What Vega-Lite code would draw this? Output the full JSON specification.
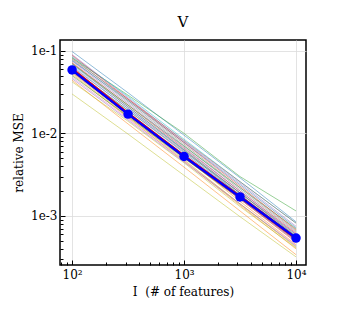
{
  "$schema": "https://vega.github.io/schema/vega-lite/v6.json",
  "autosize": "none",
  "padding": {"left": 60, "top": 40, "right": 38, "bottom": 66},
  "width": 246,
  "height": 225,
  "background": "white",
  "config": {
    "font": "DejaVu Serif",
    "view": {"stroke": "black", "strokeWidth": 1.5},
    "title": {"font": "DejaVu Serif", "fontSize": 15, "fontWeight": "normal", "color": "black", "offset": 10}
  },
  "title": "V",
  "datasets": {
    "runs": [
      {"run": "r01", "x": 100, "mse": 0.098}, {"run": "r01", "x": 316.2, "mse": 0.031}, {"run": "r01", "x": 1000, "mse": 0.0095}, {"run": "r01", "x": 3162, "mse": 0.0029}, {"run": "r01", "x": 10000, "mse": 0.00085},
      {"run": "r02", "x": 100, "mse": 0.052}, {"run": "r02", "x": 316.2, "mse": 0.0155}, {"run": "r02", "x": 1000, "mse": 0.0046}, {"run": "r02", "x": 3162, "mse": 0.00135}, {"run": "r02", "x": 10000, "mse": 0.0004},
      {"run": "r03", "x": 100, "mse": 0.082}, {"run": "r03", "x": 316.2, "mse": 0.029}, {"run": "r03", "x": 1000, "mse": 0.01}, {"run": "r03", "x": 3162, "mse": 0.003}, {"run": "r03", "x": 10000, "mse": 0.00115},
      {"run": "r04", "x": 100, "mse": 0.072}, {"run": "r04", "x": 316.2, "mse": 0.022}, {"run": "r04", "x": 1000, "mse": 0.0066}, {"run": "r04", "x": 3162, "mse": 0.002}, {"run": "r04", "x": 10000, "mse": 0.00062},
      {"run": "r05", "x": 100, "mse": 0.09}, {"run": "r05", "x": 316.2, "mse": 0.027}, {"run": "r05", "x": 1000, "mse": 0.008}, {"run": "r05", "x": 3162, "mse": 0.0025}, {"run": "r05", "x": 10000, "mse": 0.00075},
      {"run": "r06", "x": 100, "mse": 0.06}, {"run": "r06", "x": 316.2, "mse": 0.019}, {"run": "r06", "x": 1000, "mse": 0.006}, {"run": "r06", "x": 3162, "mse": 0.0019}, {"run": "r06", "x": 10000, "mse": 0.0006},
      {"run": "r07", "x": 100, "mse": 0.066}, {"run": "r07", "x": 316.2, "mse": 0.02}, {"run": "r07", "x": 1000, "mse": 0.0058}, {"run": "r07", "x": 3162, "mse": 0.0017}, {"run": "r07", "x": 10000, "mse": 0.0005},
      {"run": "r08", "x": 100, "mse": 0.078}, {"run": "r08", "x": 316.2, "mse": 0.024}, {"run": "r08", "x": 1000, "mse": 0.0071}, {"run": "r08", "x": 3162, "mse": 0.0021}, {"run": "r08", "x": 10000, "mse": 0.00064},
      {"run": "r09", "x": 100, "mse": 0.03}, {"run": "r09", "x": 316.2, "mse": 0.0098}, {"run": "r09", "x": 1000, "mse": 0.0031}, {"run": "r09", "x": 3162, "mse": 0.00098}, {"run": "r09", "x": 10000, "mse": 0.00032},
      {"run": "r10", "x": 100, "mse": 0.085}, {"run": "r10", "x": 316.2, "mse": 0.028}, {"run": "r10", "x": 1000, "mse": 0.0085}, {"run": "r10", "x": 3162, "mse": 0.0026}, {"run": "r10", "x": 10000, "mse": 0.00082},
      {"run": "r11", "x": 100, "mse": 0.064}, {"run": "r11", "x": 316.2, "mse": 0.02}, {"run": "r11", "x": 1000, "mse": 0.0062}, {"run": "r11", "x": 3162, "mse": 0.0018}, {"run": "r11", "x": 10000, "mse": 0.00056},
      {"run": "r12", "x": 100, "mse": 0.044}, {"run": "r12", "x": 316.2, "mse": 0.013}, {"run": "r12", "x": 1000, "mse": 0.0039}, {"run": "r12", "x": 3162, "mse": 0.00115}, {"run": "r12", "x": 10000, "mse": 0.00034},
      {"run": "r13", "x": 100, "mse": 0.07}, {"run": "r13", "x": 316.2, "mse": 0.022}, {"run": "r13", "x": 1000, "mse": 0.007}, {"run": "r13", "x": 3162, "mse": 0.0022}, {"run": "r13", "x": 10000, "mse": 0.0007},
      {"run": "r14", "x": 100, "mse": 0.055}, {"run": "r14", "x": 316.2, "mse": 0.017}, {"run": "r14", "x": 1000, "mse": 0.0051}, {"run": "r14", "x": 3162, "mse": 0.0016}, {"run": "r14", "x": 10000, "mse": 0.00048},
      {"run": "r15", "x": 100, "mse": 0.075}, {"run": "r15", "x": 316.2, "mse": 0.023}, {"run": "r15", "x": 1000, "mse": 0.0068}, {"run": "r15", "x": 3162, "mse": 0.002}, {"run": "r15", "x": 10000, "mse": 0.0006},
      {"run": "r16", "x": 100, "mse": 0.08}, {"run": "r16", "x": 316.2, "mse": 0.026}, {"run": "r16", "x": 1000, "mse": 0.0082}, {"run": "r16", "x": 3162, "mse": 0.0026}, {"run": "r16", "x": 10000, "mse": 0.00082},
      {"run": "r17", "x": 100, "mse": 0.048}, {"run": "r17", "x": 316.2, "mse": 0.015}, {"run": "r17", "x": 1000, "mse": 0.0047}, {"run": "r17", "x": 3162, "mse": 0.0014}, {"run": "r17", "x": 10000, "mse": 0.00044},
      {"run": "r18", "x": 100, "mse": 0.058}, {"run": "r18", "x": 316.2, "mse": 0.018}, {"run": "r18", "x": 1000, "mse": 0.0055}, {"run": "r18", "x": 3162, "mse": 0.0017}, {"run": "r18", "x": 10000, "mse": 0.00052},
      {"run": "r19", "x": 100, "mse": 0.042}, {"run": "r19", "x": 316.2, "mse": 0.014}, {"run": "r19", "x": 1000, "mse": 0.0044}, {"run": "r19", "x": 3162, "mse": 0.0013}, {"run": "r19", "x": 10000, "mse": 0.00041},
      {"run": "r20", "x": 100, "mse": 0.068}, {"run": "r20", "x": 316.2, "mse": 0.021}, {"run": "r20", "x": 1000, "mse": 0.0064}, {"run": "r20", "x": 3162, "mse": 0.0019}, {"run": "r20", "x": 10000, "mse": 0.00058},
      {"run": "r21", "x": 100, "mse": 0.076}, {"run": "r21", "x": 316.2, "mse": 0.025}, {"run": "r21", "x": 1000, "mse": 0.0078}, {"run": "r21", "x": 3162, "mse": 0.0024}, {"run": "r21", "x": 10000, "mse": 0.00072},
      {"run": "r22", "x": 100, "mse": 0.062}, {"run": "r22", "x": 316.2, "mse": 0.018}, {"run": "r22", "x": 1000, "mse": 0.0052}, {"run": "r22", "x": 3162, "mse": 0.0015}, {"run": "r22", "x": 10000, "mse": 0.00045},
      {"run": "r23", "x": 100, "mse": 0.05}, {"run": "r23", "x": 316.2, "mse": 0.016}, {"run": "r23", "x": 1000, "mse": 0.005}, {"run": "r23", "x": 3162, "mse": 0.0016}, {"run": "r23", "x": 10000, "mse": 0.0005},
      {"run": "r24", "x": 100, "mse": 0.088}, {"run": "r24", "x": 316.2, "mse": 0.026}, {"run": "r24", "x": 1000, "mse": 0.0077}, {"run": "r24", "x": 3162, "mse": 0.0023}, {"run": "r24", "x": 10000, "mse": 0.00068},
      {"run": "r25", "x": 100, "mse": 0.046}, {"run": "r25", "x": 316.2, "mse": 0.0145}, {"run": "r25", "x": 1000, "mse": 0.0045}, {"run": "r25", "x": 3162, "mse": 0.0014}, {"run": "r25", "x": 10000, "mse": 0.00043},
      {"run": "r26", "x": 100, "mse": 0.07}, {"run": "r26", "x": 316.2, "mse": 0.021}, {"run": "r26", "x": 1000, "mse": 0.0063}, {"run": "r26", "x": 3162, "mse": 0.0019}, {"run": "r26", "x": 10000, "mse": 0.00057},
      {"run": "r27", "x": 100, "mse": 0.057}, {"run": "r27", "x": 316.2, "mse": 0.0175}, {"run": "r27", "x": 1000, "mse": 0.0054}, {"run": "r27", "x": 3162, "mse": 0.0016}, {"run": "r27", "x": 10000, "mse": 0.00049},
      {"run": "r28", "x": 100, "mse": 0.083}, {"run": "r28", "x": 316.2, "mse": 0.025}, {"run": "r28", "x": 1000, "mse": 0.0074}, {"run": "r28", "x": 3162, "mse": 0.0022}, {"run": "r28", "x": 10000, "mse": 0.00066},
      {"run": "r29", "x": 100, "mse": 0.054}, {"run": "r29", "x": 316.2, "mse": 0.016}, {"run": "r29", "x": 1000, "mse": 0.0048}, {"run": "r29", "x": 3162, "mse": 0.0014}, {"run": "r29", "x": 10000, "mse": 0.00042},
      {"run": "r30", "x": 100, "mse": 0.06}, {"run": "r30", "x": 316.2, "mse": 0.019}, {"run": "r30", "x": 1000, "mse": 0.0058}, {"run": "r30", "x": 3162, "mse": 0.0018}, {"run": "r30", "x": 10000, "mse": 0.00055}
    ],
    "red": [
      {"x": 100, "mse": 0.0598}, {"x": 316.2, "mse": 0.0173}, {"x": 1000, "mse": 0.0053}, {"x": 3162, "mse": 0.00171}, {"x": 10000, "mse": 0.000535}
    ],
    "blue": [
      {"x": 100, "mse": 0.0586}, {"x": 316.2, "mse": 0.0171}, {"x": 1000, "mse": 0.00525}, {"x": 3162, "mse": 0.0017}, {"x": 10000, "mse": 0.00054}
    ]
  },
  "encoding": {
    "x": {
      "field": "x", "type": "quantitative",
      "scale": {"type": "log", "domain": [78, 12280], "nice": false},
      "title": "I\u00a0\u00a0(# of features)",
      "axis": {
        "values": [80, 90, 100, 200, 300, 400, 500, 600, 700, 800, 900, 1000, 2000, 3000, 4000, 5000, 6000, 7000, 8000, 9000, 10000],
        "labelExpr": "datum.value == 100 ? '10²' : datum.value == 1000 ? '10³' : datum.value == 10000 ? '10⁴' : ''",
        "domain": false,
        "grid": true,
        "gridColor": "#dcdcdc",
        "gridWidth": 0.8,
        "gridOpacity": {"condition": {"test": "datum.value == 100 || datum.value == 1000 || datum.value == 10000", "value": 1}, "value": 0},
        "tickColor": "black",
        "tickWidth": 1,
        "tickSize": {"condition": {"test": "datum.value == 100 || datum.value == 1000 || datum.value == 10000", "value": -5}, "value": -3},
        "labelPadding": 9,
        "labelFont": "DejaVu Serif", "labelFontSize": 12, "labelColor": "black",
        "labelFlush": false, "labelOverlap": false,
        "titleFont": "DejaVu Serif", "titleFontSize": 12, "titleFontWeight": "normal", "titleColor": "black",
        "titlePadding": 4
      }
    },
    "y": {
      "field": "mse", "type": "quantitative",
      "scale": {"type": "log", "domain": [0.000255, 0.135], "nice": false},
      "title": "relative MSE",
      "axis": {
        "values": [0.0003, 0.0004, 0.0005, 0.0006, 0.0007, 0.0008, 0.0009, 0.001, 0.002, 0.003, 0.004, 0.005, 0.006, 0.007, 0.008, 0.009, 0.01, 0.02, 0.03, 0.04, 0.05, 0.06, 0.07, 0.08, 0.09, 0.1],
        "labelExpr": "abs(datum.value - 0.1) < 1e-9 ? '1e-1' : abs(datum.value - 0.01) < 1e-10 ? '1e-2' : abs(datum.value - 0.001) < 1e-11 ? '1e-3' : ''",
        "domain": false,
        "grid": true,
        "gridColor": "#dcdcdc",
        "gridWidth": 0.8,
        "gridOpacity": {"condition": {"test": "abs(datum.value - 0.1) < 1e-9 || abs(datum.value - 0.01) < 1e-10 || abs(datum.value - 0.001) < 1e-11", "value": 1}, "value": 0},
        "tickColor": "black",
        "tickWidth": 1,
        "tickSize": {"condition": {"test": "abs(datum.value - 0.1) < 1e-9 || abs(datum.value - 0.01) < 1e-10 || abs(datum.value - 0.001) < 1e-11", "value": -5}, "value": -3},
        "labelPadding": 8,
        "labelFont": "DejaVu Serif", "labelFontSize": 12, "labelColor": "black",
        "labelFlush": false, "labelOverlap": false,
        "titleFont": "DejaVu Serif", "titleFontSize": 12, "titleFontWeight": "normal", "titleColor": "black",
        "titlePadding": 5
      }
    }
  },
  "layer": [
    {
      "data": {"name": "runs"},
      "mark": {"type": "line", "strokeWidth": 0.7, "opacity": 0.7, "clip": true},
      "encoding": {
        "color": {"field": "run", "type": "nominal", "scale": {"scheme": "category10"}, "legend": null},
        "detail": {"field": "run"}
      }
    },
    {
      "data": {"name": "red"},
      "mark": {"type": "line", "strokeWidth": 3, "color": "#ff0000", "clip": true},
      "encoding": {}
    },
    {
      "data": {"name": "blue"},
      "mark": {"type": "line", "strokeWidth": 2.5, "color": "#0000ff", "point": {"filled": true, "size": 90, "color": "#0000ff", "opacity": 1}, "clip": true},
      "encoding": {}
    }
  ]
}
